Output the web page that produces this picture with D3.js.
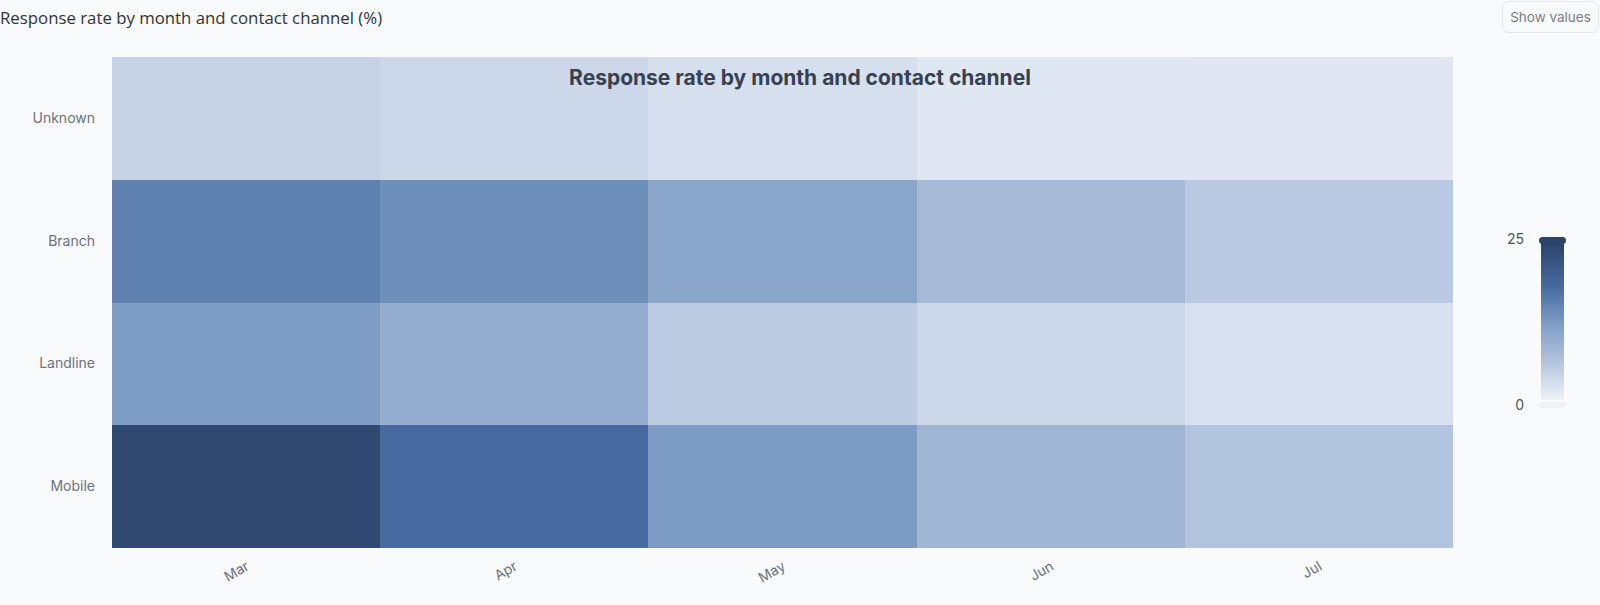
<!DOCTYPE html>
<html lang="en">
<head>
    <meta charset="utf-8">
    <title>Response rate heatmap</title>
    <script src="https://cdn.jsdelivr.net/npm/d3@7"></script>
    <style>
        html, body {
            margin: 0;
            padding: 0;
            background: #f8fafc;
            overflow: hidden;
        }
        #caption {
            position: absolute;
            left: 0;
            top: 6px;
            font-family: "Open Sans", sans-serif;
            font-size: 16.8px;
            color: #333;
        }
        #toggle {
            position: absolute;
            left: 1502px;
            top: 1px;
            width: 97px;
            height: 32px;
            border: 1px solid #e2e5ea;
            border-radius: 7px;
            background: #f9fafb;
            font-family: Inter, sans-serif;
            font-size: 13.5px;
            color: #7a808a;
            padding: 0;
        }
        svg text { font-family: Inter, sans-serif; }
    </style>
</head>
<body>
    <div id="caption">Response rate by month and contact channel (%)</div>
    <button id="toggle">Show values</button>

    <script>
        // data
        var months = ["Mar", "Apr", "May", "Jun", "Jul"];
        var channels = ["Unknown", "Branch", "Landline", "Mobile"];
        // response rate (%) per channel, one value per month
        var unknownRate  = [4.2, 3.5, 2.5, 1.5, 1.4];
        var branchRate   = [15.4, 13.8, 10.8, 7.4, 5.3];
        var landlineRate = [12.0, 9.5, 5.1, 3.5, 2.4];
        var mobileRate   = [24.0, 18.0, 12.2, 8.3, 6.0];
        var legendTicks = [0, 25];

        var rates = {
            "Unknown": unknownRate,
            "Branch": branchRate,
            "Landline": landlineRate,
            "Mobile": mobileRate
        };

        var cells = [];
        channels.forEach(function (c) {
            months.forEach(function (m, i) {
                cells.push({ channel: c, month: m, value: rates[c][i] });
            });
        });

        var w = 1600, h = 605;
        var grid = { left: 112, right: 1453, top: 57, bottom: 548 };

        var svg = d3.select("body").append("svg")
            .attr("width", w).attr("height", h)
            .style("position", "absolute").style("left", 0).style("top", 0);

        var x = d3.scaleBand().domain(months).range([grid.left, grid.right]);
        var y = d3.scaleBand().domain(channels).range([grid.top, grid.bottom]);

        var color = d3.scaleLinear()
            .domain([0, 6, 12, 18, 25])
            .range(["#eef2f8", "#b3c4de", "#7f9ec5", "#476ba0", "#2c4369"])
            .clamp(true);

        svg.append("g").selectAll("rect")
            .data(cells)
            .enter()
            .append("rect")
            .attr("x", function (d) { return x(d.month); })
            .attr("y", function (d) { return y(d.channel); })
            .attr("width", x.bandwidth())
            .attr("height", y.bandwidth())
            .attr("fill", function (d) { return color(d.value); })
            .attr("shape-rendering", "crispEdges")
            .append("title")
            .text(function (d) { return d.channel + " / " + d.month + ": " + d.value + "%"; });

        // y axis labels
        var yAxis = svg.append("g")
            .attr("transform", "translate(" + (grid.left - 6) + ",0)")
            .call(d3.axisLeft(y).tickSize(0).tickPadding(11));
        yAxis.select(".domain").remove();
        yAxis.selectAll("text")
            .style("font-size", "14px")
            .attr("fill", "#6b7280");

        // x axis labels, rotated
        var xAxis = svg.append("g")
            .attr("transform", "translate(0," + grid.bottom + ")")
            .call(d3.axisBottom(x).tickSize(0).tickPadding(0));
        xAxis.select(".domain").remove();
        xAxis.selectAll("text")
            .style("font-size", "14px")
            .attr("fill", "#6b7280")
            .attr("text-anchor", "end")
            .attr("dy", 0)
            .attr("transform", "translate(4,21) rotate(-30)");

        // chart title inside the grid
        svg.append("text")
            .attr("x", w / 2)
            .attr("y", 85)
            .attr("text-anchor", "middle")
            .style("font-size", "21px")
            .style("font-weight", "700")
            .attr("fill", "#374151")
            .text("Response rate by month and contact channel");

        // continuous legend
        var lg = { x: 1541, w: 23, top: 243, bottom: 400 };
        var ly = d3.scaleLinear().domain(d3.extent(legendTicks)).range([lg.bottom, lg.top]);

        var defs = svg.append("defs");
        var grad = defs.append("linearGradient")
            .attr("id", "legendGrad")
            .attr("x1", 0).attr("y1", 1).attr("x2", 0).attr("y2", 0);
        color.domain().forEach(function (v) {
            grad.append("stop")
                .attr("offset", v / 25)
                .attr("stop-color", color(v));
        });

        svg.append("rect")
            .attr("x", lg.x).attr("y", ly(25))
            .attr("width", lg.w).attr("height", ly(0) - ly(25))
            .attr("fill", "url(#legendGrad)");

        // range handles
        svg.append("rect")
            .attr("x", lg.x - 2).attr("y", ly(25) - 6)
            .attr("width", lg.w + 4).attr("height", 7)
            .attr("rx", 3.5)
            .attr("fill", color(25));
        svg.append("rect")
            .attr("x", lg.x - 2).attr("y", ly(0) + 2)
            .attr("width", lg.w + 4).attr("height", 6)
            .attr("rx", 3)
            .attr("fill", "#eef1f6");

        svg.selectAll(".legend-label")
            .data(legendTicks)
            .enter()
            .append("text")
            .attr("class", "legend-label")
            .attr("x", 1524)
            .attr("y", function (d) { return d === 25 ? ly(d) - 4 : ly(d) + 5; })
            .attr("dy", "0.35em")
            .attr("text-anchor", "end")
            .style("font-size", "14px")
            .attr("fill", "#4b5563")
            .text(function (d) { return d; });
    </script>
</body>
</html>
